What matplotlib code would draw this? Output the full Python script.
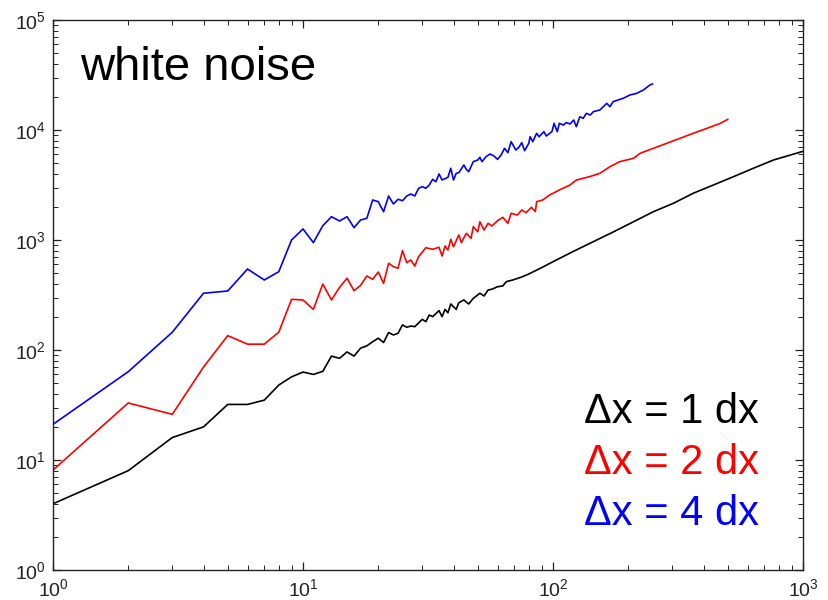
import matplotlib
matplotlib.use("Agg")
import matplotlib.pyplot as plt
from matplotlib.ticker import LogLocator, NullFormatter

plt.rcParams['font.family'] = ['Liberation Sans', 'DejaVu Sans']
plt.rcParams['mathtext.fontset'] = 'custom'
plt.rcParams['mathtext.rm'] = 'Liberation Sans'
plt.rcParams['mathtext.it'] = 'Liberation Sans'
plt.rcParams['mathtext.bf'] = 'Liberation Sans'

# ---- data ----
x_black = [1, 2, 3, 4, 5, 6, 7, 8, 9, 10, 11, 12, 13, 14, 15, 16, 17, 18, 19, 20,
           21, 22, 23, 24, 25, 26, 27, 28, 30, 31, 32, 33, 35, 36, 37, 38, 39, 41,
           42, 44, 46, 48, 51, 53, 55, 57, 60, 63, 65, 69, 75, 80, 89, 100, 120,
           145, 175, 210, 252, 303, 364, 438, 527, 633, 762, 1000]
y_black = [4, 8, 16, 20, 32, 32, 35, 48, 57, 63, 60, 64, 88, 84, 96, 88, 104, 109,
           119, 128, 117, 144, 137, 142, 169, 161, 165, 163, 190, 181, 208, 201,
           228, 201, 234, 218, 262, 234, 269, 285, 262, 295, 328, 310, 351, 357,
           376, 382, 418, 433, 461, 491, 553, 635, 783, 966, 1189, 1466, 1808,
           2155, 2661, 3162, 3764, 4488, 5336, 6400]

x_red = [1, 2, 3, 4, 5, 6, 7, 8, 9, 10, 11, 12, 13, 14, 15, 16, 17, 18, 19, 20,
         21, 22, 23, 24, 25, 26, 27, 28, 29, 31, 33, 35, 36, 37, 38, 39, 40, 42,
         43, 45, 47, 48, 50, 51, 53, 55, 57, 60, 63, 66, 68, 72, 75, 78, 82, 85,
         86, 91, 97, 106, 117, 124, 140, 154, 169, 185, 210, 223, 252, 285, 322,
         364, 413, 467, 500]
y_red = [8.1, 33, 26, 70, 135, 113, 113, 145, 289, 285, 234, 398, 285, 371, 449,
         346, 387, 471, 439, 512, 404, 614, 572, 553, 800, 622, 658, 580, 705,
         851, 823, 859, 715, 882, 811, 1015, 869, 1110, 946, 1151, 1036, 1322,
         1189, 1466, 1233, 1418, 1341, 1499, 1607, 1418, 1750, 1687, 1875, 1771,
         1983, 1811, 2229, 2311, 2566, 2848, 3162, 3511, 3764, 4038, 4642, 5156,
         5533, 6139, 6816, 7568, 8400, 9330, 10360, 11500, 12500]

x_blue = [1, 2, 3, 4, 5, 6, 7, 8, 9, 10, 11, 12, 13, 14, 15, 16, 17, 18, 19, 20,
          21, 22, 23, 24, 25, 26, 27, 28, 29, 30, 31, 32, 33, 34, 35, 36, 38, 39,
          40, 41, 42, 44, 45, 46, 48, 50, 51, 52, 54, 56, 58, 60, 62, 64, 66, 68,
          71, 73, 75, 77, 80, 81, 83, 86, 88, 92, 94, 99, 101, 104, 106, 110, 113,
          117, 121, 124, 128, 132, 136, 141, 145, 154, 159, 164, 169, 174, 182,
          191, 203, 216, 230, 244, 250]
y_blue = [21.1, 63.5, 145, 328, 344, 545, 433, 515, 1000, 1260, 946, 1349, 1629,
          1489, 1629, 1294, 1520, 1575, 2311, 2230, 1808, 2512, 2125, 2344, 2276,
          2512, 2619, 2512, 2951, 3053, 2951, 3162, 3564, 3388, 3981, 3511, 3715,
          4487, 3511, 4038, 4093, 4806, 4394, 4178, 5156, 5336, 5649, 5156, 5727,
          6050, 5806, 5410, 5930, 6816, 6222, 7830, 6579, 6953, 7674, 6486, 7568,
          8690, 7830, 9330, 8690, 9660, 8820, 9660, 11500, 9660, 11500, 11100,
          11670, 11340, 12330, 10720, 13210, 12760, 14180, 13680, 14680, 15200,
          16290, 17470, 16290, 18110, 18740, 19420, 20800, 21540, 23100, 25650,
          26200]

labels = ["\u0394x = 1 dx", "\u0394x = 2 dx", "\u0394x = 4 dx"]
colors = ["black", "red", "blue"]
title_text = "white noise"

# ---- figure ----
fig = plt.figure(figsize=(8.29, 6.0), dpi=100)
ax = fig.add_axes([53/829, 30/600, 750/829, 550/600])

ax.plot(x_black, y_black, color=colors[0], lw=1.2)
ax.plot(x_red, y_red, color=colors[1], lw=1.2)
ax.plot(x_blue, y_blue, color=colors[2], lw=1.2)

ax.set_xscale('log')
ax.set_yscale('log')
ax.set_xlim(1, 1000)
ax.set_ylim(1, 1e5)

ax.xaxis.set_major_locator(LogLocator(base=10, numticks=10))
ax.yaxis.set_major_locator(LogLocator(base=10, numticks=10))
ax.xaxis.set_minor_locator(LogLocator(base=10, subs=range(2, 10), numticks=20))
ax.yaxis.set_minor_locator(LogLocator(base=10, subs=range(2, 10), numticks=20))
ax.xaxis.set_minor_formatter(NullFormatter())
ax.yaxis.set_minor_formatter(NullFormatter())

ax.tick_params(which='both', direction='in', top=True, right=True,
               labelsize=14, colors='#222222')
ax.tick_params(which='major', length=6, width=0.9)
ax.tick_params(which='minor', length=3.5, width=0.7)
ax.tick_params(axis='x', which='major', pad=6)
ax.tick_params(axis='y', which='major', pad=5)
for s in ax.spines.values():
    s.set_linewidth(1.0)
    s.set_color('#222222')

ax.text(0.036, 0.891, title_text, transform=ax.transAxes, fontsize=34,
        color='black', ha='left', va='baseline')

baselines = [423, 474, 525]
for lab, c, b in zip(labels, colors, baselines):
    ax.text(584/829, (600 - b)/600, lab, transform=fig.transFigure,
            fontsize=30, color=c, ha='left', va='baseline')

fig.savefig("out.png", dpi=100)
